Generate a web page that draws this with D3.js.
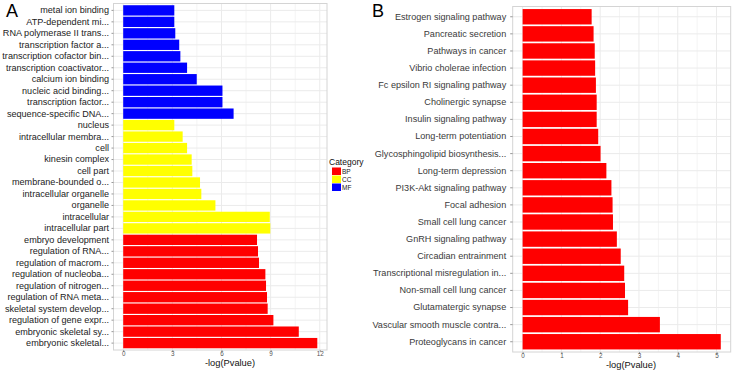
<!DOCTYPE html>
<html>
<head>
<meta charset="utf-8">
<script src="https://cdn.jsdelivr.net/npm/d3@7"></script>
<style>
  body { margin: 0; background: #fff; }
  svg { display: block; }
  svg text { font-family: "Liberation Sans", Arial, sans-serif; }
</style>
</head>
<body>
<div id="chart"></div>
<script>
// Panel A - GO terms, top to bottom
const goTerms = ['metal ion binding', 'ATP-dependent mi...', 'RNA polymerase II trans...', 'transcription factor a...',
  'transcription cofactor bin...', 'transcription coactivator...', 'calcium ion binding', 'nucleic acid binding...',
  'transcription factor...', 'sequence-specific DNA...', 'nucleus', 'intracellular membra...', 'cell', 'kinesin complex',
  'cell part', 'membrane-bounded o...', 'intracellular organelle', 'organelle', 'intracellular', 'intracellular part',
  'embryo development', 'regulation of RNA...', 'regulation of macrom...', 'regulation of nucleoba...',
  'regulation of nitrogen...', 'regulation of RNA meta...', 'skeletal system develop...', 'regulation of gene expr...',
  'embryonic skeletal sy...', 'embryonic skeletal...'];
const goValues = [3.12, 3.12, 3.18, 3.42, 3.49, 3.9, 4.49, 6.06, 6.06, 6.74,
  3.12, 3.63, 3.9, 4.18, 4.22, 4.69, 4.77, 5.63, 8.95, 8.98,
  8.17, 8.23, 8.29, 8.68, 8.72, 8.78, 8.82, 9.17, 10.72, 11.85];
const goCategory = ['MF', 'MF', 'MF', 'MF', 'MF', 'MF', 'MF', 'MF', 'MF', 'MF',
  'CC', 'CC', 'CC', 'CC', 'CC', 'CC', 'CC', 'CC', 'CC', 'CC',
  'BP', 'BP', 'BP', 'BP', 'BP', 'BP', 'BP', 'BP', 'BP', 'BP'];
const categories = ['BP', 'CC', 'MF'];
const goTicks = [0, 3, 6, 9, 12];

// Panel B - KEGG pathways, top to bottom
const pathways = ['Estrogen signaling pathway', 'Pancreatic secretion', 'Pathways in cancer', 'Vibrio cholerae infection',
  'Fc epsilon RI signaling pathway', 'Cholinergic synapse', 'Insulin signaling pathway', 'Long-term potentiation',
  'Glycosphingolipid biosynthesis...', 'Long-term depression', 'PI3K-Akt signaling pathway', 'Focal adhesion',
  'Small cell lung cancer', 'GnRH signaling pathway', 'Circadian entrainment', 'Transcriptional misregulation in...',
  'Non-small cell lung cancer', 'Glutamatergic synapse', 'Vascular smooth muscle contra...', 'Proteoglycans in cancer'];
const pathwayValues = [1.78, 1.83, 1.86, 1.87, 1.89, 1.91, 1.91, 1.95, 2.01, 2.16,
  2.29, 2.32, 2.33, 2.43, 2.53, 2.62, 2.64, 2.72, 3.54, 5.11];
const pathwayTicks = [0, 1, 2, 3, 4, 5];

const width = 734;
const height = 373;
const fontFamily = '"Liberation Sans", Arial, sans-serif';

const svg = d3.select('#chart')
  .append('svg')
    .attr('width', width)
    .attr('height', height);

const colorScale = d3.scaleOrdinal()
  .domain(categories)
  .range(['#ff0000', '#ffff00', '#0000ff']);

// draws one ggplot-like horizontal bar panel
const drawPanel = (opts) => {
  const maxVal = d3.max(opts.values);
  const x = d3.scaleLinear()
    .domain([-maxVal * 0.05, maxVal * 1.05])
    .range([opts.left, opts.right]);
  const y = d3.scaleBand()
    .domain(opts.labels)
    .range([opts.top, opts.bottom])
    .paddingInner(0.1)
    .paddingOuter(0.15);

  const g = svg.append('g');

  // grid
  const minor = opts.ticks.slice(0, -1).map((t, i) => (t + opts.ticks[i + 1]) / 2);
  const lastStep = opts.ticks[1] - opts.ticks[0];
  minor.push(opts.ticks[opts.ticks.length - 1] + lastStep / 2);
  g.append('g')
    .attr('stroke', '#f4f4f4')
    .selectAll('line')
    .data(minor.filter(d => x(d) < opts.right))
    .join('line')
      .attr('x1', d => x(d))
      .attr('x2', d => x(d))
      .attr('y1', opts.top)
      .attr('y2', opts.bottom);
  g.append('g')
    .attr('stroke', '#ebebeb')
    .selectAll('line')
    .data(opts.ticks)
    .join('line')
      .attr('x1', d => x(d))
      .attr('x2', d => x(d))
      .attr('y1', opts.top)
      .attr('y2', opts.bottom);
  g.append('g')
    .attr('stroke', '#ebebeb')
    .selectAll('line')
    .data(opts.labels)
    .join('line')
      .attr('x1', opts.left)
      .attr('x2', opts.right)
      .attr('y1', d => y(d) + y.bandwidth() / 2)
      .attr('y2', d => y(d) + y.bandwidth() / 2);

  // bars
  g.append('g')
    .selectAll('rect')
    .data(opts.labels.map((d, i) => ({label: d, value: opts.values[i], cat: opts.cats ? opts.cats[i] : 'BP'})))
    .join('rect')
      .attr('x', x(0))
      .attr('y', d => y(d.label))
      .attr('width', d => x(d.value) - x(0))
      .attr('height', y.bandwidth())
      .attr('fill', d => colorScale(d.cat));

  // border
  g.append('rect')
    .attr('x', opts.left)
    .attr('y', opts.top)
    .attr('width', opts.right - opts.left)
    .attr('height', opts.bottom - opts.top)
    .attr('fill', 'none')
    .attr('stroke', '#d4d4d4');

  // y axis labels
  const yAxis = g.append('g')
    .attr('transform', `translate(${opts.left},0)`)
    .call(d3.axisLeft(y).tickSize(opts.tickSize).tickPadding(opts.tickPad));
  yAxis.attr('font-family', fontFamily);
  yAxis.select('.domain').remove();
  yAxis.selectAll('line').attr('stroke', '#999');
  yAxis.selectAll('text')
    .attr('fill', opts.labelColor)
    .style('font-size', opts.labelSize + 'px');

  // x axis
  const xAxis = g.append('g')
    .attr('transform', `translate(0,${opts.bottom})`)
    .call(d3.axisBottom(x).tickValues(opts.ticks).tickSize(2).tickPadding(0).tickFormat(d3.format('d')));
  xAxis.attr('font-family', fontFamily);
  xAxis.select('.domain').remove();
  xAxis.selectAll('line').attr('stroke', '#999');
  xAxis.selectAll('text')
    .attr('fill', '#555')
    .style('font-size', '6.3px');

  g.append('text')
    .attr('x', opts.titleX)
    .attr('y', opts.titleY)
    .attr('text-anchor', 'middle')
    .attr('fill', '#111')
    .style('font-size', '9.3px')
    .text('-log(Pvalue)');

  g.append('text')
    .attr('x', opts.letterX)
    .attr('y', 16.5)
    .attr('fill', '#000')
    .style('font-size', '18px')
    .text(opts.letter);
};

drawPanel({
  labels: goTerms, values: goValues, cats: goCategory, ticks: goTicks,
  left: 113.5, right: 327, top: 3.5, bottom: 350,
  tickSize: 2, tickPad: 2.5, labelSize: 9.1, labelColor: '#222',
  titleX: 230, titleY: 366, letter: 'A', letterX: 6
});

drawPanel({
  labels: pathways, values: pathwayValues, cats: null, ticks: pathwayTicks,
  left: 512.7, right: 730.7, top: 6.5, bottom: 352,
  tickSize: 2.5, tickPad: 4, labelSize: 9.1, labelColor: '#3a3a3a',
  titleX: 631, titleY: 368, letter: 'B', letterX: 372
});

// legend
const legend = svg.append('g')
  .attr('transform', 'translate(329,0)');
legend.append('text')
  .attr('x', 0)
  .attr('y', 165)
  .attr('fill', '#111')
  .style('font-size', '8.5px')
  .text('Category');
const legendItems = legend.selectAll('g.item')
  .data(categories)
  .join('g')
    .attr('class', 'item')
    .attr('transform', (d, i) => `translate(3,${167.5 + i * 8})`);
legendItems.append('rect')
  .attr('width', 9)
  .attr('height', 7.5)
  .attr('fill', d => colorScale(d));
legendItems.append('text')
  .attr('x', 10)
  .attr('y', 6)
  .attr('fill', '#222')
  .style('font-size', '6.5px')
  .text(d => d);
</script>
</body>
</html>
